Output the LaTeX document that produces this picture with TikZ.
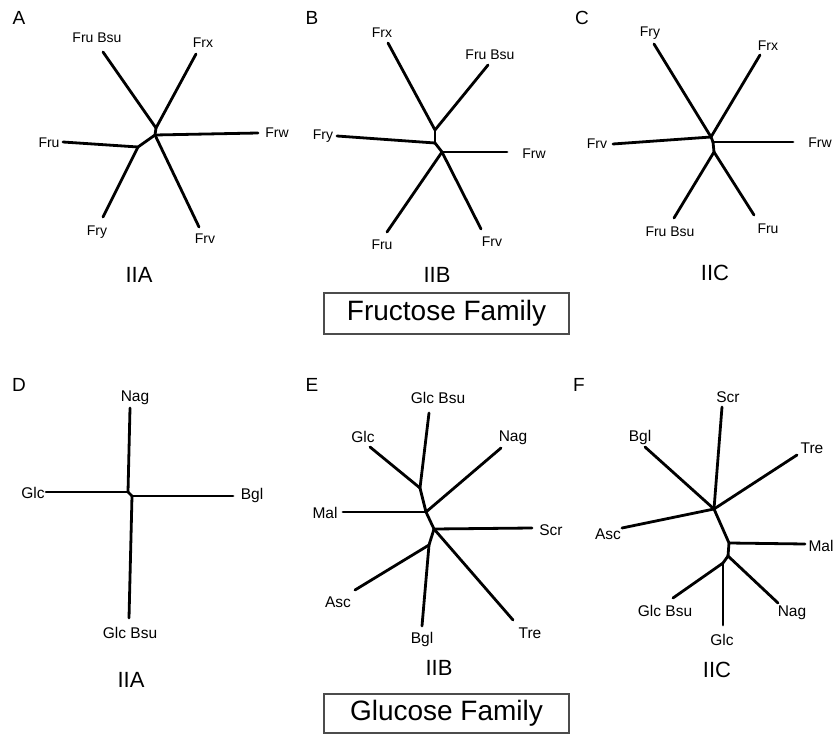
\documentclass[tikz,border=0pt]{standalone}
\usepackage{fontspec}
\setmainfont{Liberation Sans}
\begin{document}
\begin{tikzpicture}[x=1pt,y=-1pt,
  br/.style={line width=2.8pt, line cap=round, line join=round},
  lf/.style={font=\fontsize{14}{16}\selectfont, inner sep=0pt},
  lg/.style={font=\fontsize{15.5}{18}\selectfont, inner sep=0pt},
  pl/.style={font=\fontsize{19}{22}\selectfont, inner sep=0pt},
  tp/.style={font=\fontsize{22}{26}\selectfont, inner sep=0pt},
  fam/.style={draw=black!70, line width=1.2pt, font=\fontsize{28}{32}\selectfont, minimum width=245pt, inner sep=0pt}]
\useasboundingbox (0,0) rectangle (835,735);
% ---------- Panel A ----------
\node[pl] (A) at (19,18) {A};
\coordinate (a1) at (156,128); \coordinate (a2) at (155,135); \coordinate (a3) at (138,147);
\coordinate (aFruBsu) at (103,52); \coordinate (aFrx) at (196,54); \coordinate (aFrw) at (258,133);
\coordinate (aFru) at (63,142); \coordinate (aFry) at (103,217); \coordinate (aFrv) at (199,227);
\draw[br] (aFruBsu) -- (a1); \draw[br] (aFrx) -- (a1); \draw[br] (a1) -- (a2);
\draw[br] (a2) -- (aFrw); \draw[br] (a2) -- (aFrv); \draw[br] (a2) -- (a3);
\draw[br] (aFru) -- (a3); \draw[br] (a3) -- (aFry);
\node[lf] (laFruBsu) at (97,38) {Fru Bsu};
\node[lf] (laFrx) at (203,43) {Frx};
\node[lf] (laFrw) at (277,133) {Frw};
\node[lf] (laFru) at (49,143) {Fru};
\node[lf] (laFry) at (97,232) {Fry};
\node[lf] (laFrv) at (205,239) {Frv};
\node[tp] (tA) at (139,275) {IIA};
% ---------- Panel B ----------
\node[pl] (B) at (312,18) {B};
\coordinate (b1) at (435,130); \coordinate (b2) at (435,143); \coordinate (b3) at (442,152);
\coordinate (bFrx) at (388,43); \coordinate (bFruBsu) at (488,65); \coordinate (bFry) at (337,136);
\coordinate (bFrw) at (507,152); \coordinate (bFru) at (387,232); \coordinate (bFrv) at (481,229);
\draw[br] (bFrx) -- (b1); \draw[br] (bFruBsu) -- (b1); \draw[br] (b1) -- (b2);
\draw[br] (bFry) -- (b2); \draw[br] (b2) -- (b3); \draw[br] (b3) -- (bFrw);
\draw[br] (b3) -- (bFru); \draw[br] (b3) -- (bFrv);
\node[lf] (lbFrx) at (382,33) {Frx};
\node[lf] (lbFruBsu) at (490,55) {Fru Bsu};
\node[lf] (lbFry) at (323,136) {Fry};
\node[lf] (lbFrw) at (534,154) {Frw};
\node[lf] (lbFru) at (382,245) {Fru};
\node[lf] (lbFrv) at (492,242) {Frv};
\node[tp] (tB) at (437,275) {IIB};
% ---------- Panel C ----------
\node[pl] (C) at (582,18) {C};
\coordinate (c1) at (711,137); \coordinate (c2) at (713,142); \coordinate (c3) at (714,152);
\coordinate (cFry) at (654,44); \coordinate (cFrx) at (760,55); \coordinate (cFrv) at (613,144);
\coordinate (cFrw) at (793,142); \coordinate (cFruBsu) at (674,218); \coordinate (cFru) at (754,215);
\draw[br] (cFry) -- (c1); \draw[br] (cFrx) -- (c1); \draw[br] (cFrv) -- (c1);
\draw[br] (c1) -- (c2); \draw[br] (c2) -- (cFrw); \draw[br] (c2) -- (c3);
\draw[br] (c3) -- (cFruBsu); \draw[br] (c3) -- (cFru);
\node[lf] (lcFry) at (650,33) {Fry};
\node[lf] (lcFrx) at (768,46) {Frx};
\node[lf] (lcFrv) at (597,144) {Frv};
\node[lf] (lcFrw) at (820,143) {Frw};
\node[lf] (lcFruBsu) at (670,232) {Fru Bsu};
\node[lf] (lcFru) at (768,229) {Fru};
\node[tp] (tC) at (715,273) {IIC};
% ---------- Fructose Family ----------
\node[fam, minimum height=41pt] (fru) at (446.5,313.5) {Fructose Family};
% ---------- Panel D ----------
\node[pl] (D) at (19,385) {D};
\coordinate (d1) at (128,492); \coordinate (d2) at (132,496);
\coordinate (dNag) at (130,408); \coordinate (dGlc) at (46,492);
\coordinate (dBgl) at (233,496); \coordinate (dGlcBsu) at (129,618);
\draw[br] (dNag) -- (d1); \draw[br] (dGlc) -- (d1); \draw[br] (d1) -- (d2);
\draw[br] (d2) -- (dBgl); \draw[br] (d2) -- (dGlcBsu);
\node[lg] (ldNag) at (135,398) {Nag};
\node[lg] (ldGlc) at (33,493) {Glc};
\node[lg] (ldBgl) at (252,495) {Bgl};
\node[lg] (ldGlcBsu) at (130,633) {Glc Bsu};
\node[tp] (tD) at (131,680) {IIA};
% ---------- Panel E ----------
\node[pl] (E) at (312,385) {E};
\coordinate (e1) at (420,488); \coordinate (e2) at (426,512); \coordinate (e3) at (434,529); \coordinate (e4) at (429,545);
\coordinate (eGlcBsu) at (429,413); \coordinate (eGlc) at (370,447); \coordinate (eNag) at (501,448);
\coordinate (eMal) at (343,512); \coordinate (eScr) at (532,528); \coordinate (eTre) at (513,620);
\coordinate (eBgl) at (422,626); \coordinate (eAsc) at (355,590);
\draw[br] (eGlcBsu) -- (e1); \draw[br] (eGlc) -- (e1); \draw[br] (e1) -- (e2);
\draw[br] (eNag) -- (e2); \draw[br] (eMal) -- (e2); \draw[br] (e2) -- (e3);
\draw[br] (e3) -- (eScr); \draw[br] (e3) -- (eTre); \draw[br] (e3) -- (e4);
\draw[br] (e4) -- (eBgl); \draw[br] (e4) -- (eAsc);
\node[lg] (leGlcBsu) at (438,398) {Glc Bsu};
\node[lg] (leGlc) at (363,437) {Glc};
\node[lg] (leNag) at (513,438) {Nag};
\node[lg] (leMal) at (325,513) {Mal};
\node[lg] (leScr) at (551,530) {Scr};
\node[lg] (leTre) at (530,633) {Tre};
\node[lg] (leBgl) at (422,639) {Bgl};
\node[lg] (leAsc) at (338,602) {Asc};
\node[tp] (tE) at (439,668) {IIB};
% ---------- Glucose Family ----------
\node[fam, minimum height=39pt] (glc) at (446.5,713.5) {Glucose Family};
% ---------- Panel F ----------
\node[pl] (F) at (579,385) {F};
\coordinate (f1) at (714,509); \coordinate (f2) at (729,543); \coordinate (f3) at (728,556); \coordinate (f4) at (723,563);
\coordinate (fScr) at (722,407); \coordinate (fBgl) at (645,447); \coordinate (fTre) at (797,455);
\coordinate (fAsc) at (622,528); \coordinate (fMal) at (805,544); \coordinate (fGlcBsu) at (673,598);
\coordinate (fNag) at (778,603); \coordinate (fGlc) at (723,625);
\draw[br] (fScr) -- (f1); \draw[br] (fBgl) -- (f1); \draw[br] (fTre) -- (f1);
\draw[br] (fAsc) -- (f1); \draw[br] (f1) -- (f2); \draw[br] (f2) -- (fMal);
\draw[br] (f2) -- (f3); \draw[br] (f3) -- (fNag); \draw[br] (f3) -- (f4);
\draw[br] (f4) -- (fGlcBsu); \draw[br] (f4) -- (fGlc);
\node[lg] (lfScr) at (728,397) {Scr};
\node[lg] (lfBgl) at (640,437) {Bgl};
\node[lg] (lfTre) at (812,448) {Tre};
\node[lg] (lfAsc) at (608,534) {Asc};
\node[lg] (lfMal) at (821,546) {Mal};
\node[lg] (lfGlcBsu) at (665,611) {Glc Bsu};
\node[lg] (lfNag) at (792,613) {Nag};
\node[lg] (lfGlc) at (722,640) {Glc};
\node[tp] (tF) at (717,670) {IIC};
\end{tikzpicture}
\end{document}
